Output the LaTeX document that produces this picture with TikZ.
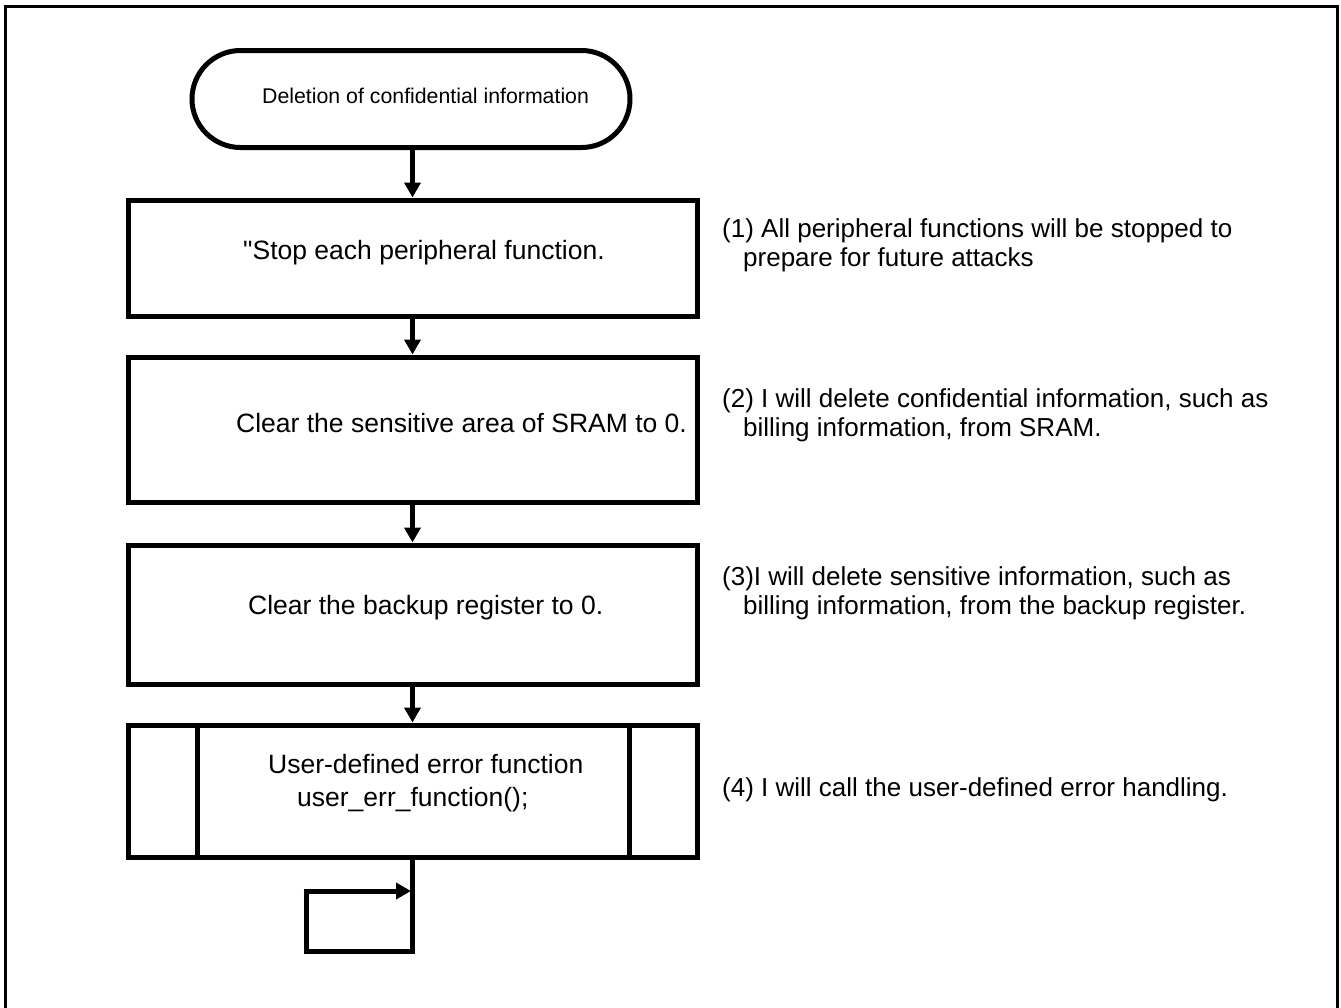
\documentclass[tikz,border=0pt]{standalone}
\usepackage{fontspec}
\setmainfont{Liberation Sans}
\usetikzlibrary{arrows.meta,shapes.misc}
\begin{document}
\begin{tikzpicture}[x=1pt,y=-1pt,
  flow/.style={line width=5pt},
  conn/.style={line width=5pt,-{Triangle[length=15pt,width=16pt]}},
  stepbox/.style={draw,line width=5pt,rectangle,minimum width=569pt,minimum height=#1,inner sep=0pt},
  termbox/.style={draw,line width=5pt,rounded rectangle,minimum width=438pt,minimum height=97pt,inner sep=0pt},
  boxtxt/.style={anchor=west,font=\fontsize{26.5}{33}\selectfont,inner sep=0pt,align=left},
  termtxt/.style={anchor=west,font=\fontsize{21.3}{25}\selectfont,inner sep=0pt},
  note/.style={anchor=west,font=\fontsize{26}{29}\selectfont,inner sep=0pt,align=left}]
\useasboundingbox (0,0) rectangle (1341,1007);
% page frame, open at the bottom
\begin{scope}
  \clip (0,0) rectangle (1341,1007);
  \draw[line width=3pt] (5,1040) -- (5,6) -- (1337,6) -- (1337,1040);
\end{scope}

% flow chart shapes
\node[termbox] (start) at (411,99) {};
\node[stepbox=116pt] (s1) at (412.5,258) {};
\node[stepbox=145pt] (s2) at (412.5,429.5) {};
\node[stepbox=139pt] (s3) at (412.5,614.5) {};
\node[stepbox=132pt] (s4) at (412.5,791) {};
\draw[flow] (s4.north west) ++(72,0) coordinate (s4l) -- (s4l |- s4.south);
\draw[flow] (s4.north east) ++(-70,0) coordinate (s4r) -- (s4r |- s4.south);

% texts inside the shapes
\node[termtxt] (tstart) at (262,96) {Deletion of confidential information};
\node[boxtxt] (t1) at (243,253) {\textquotedbl Stop each peripheral function.};
\node[boxtxt] (t2) at (236,423) {Clear the sensitive area of SRAM to 0.};
\node[boxtxt] (t3) at (248,608) {Clear the backup register to 0.};
\node[boxtxt] (t4) at (268,783) {User-defined error function\\\hspace*{29pt}user\_err\_function();};

% connectors
\draw[conn] (start.south -| s1.north) -- (s1.north);
\draw[conn] (s1.south) -- (s2.north);
\draw[conn] (s2.south) -- (s3.north);
\draw[conn] (s3.south) -- (s4.north);

% endless loop below the last step
\coordinate (lpb) at (412.5,951);
\coordinate (lpl) at (306,951);
\coordinate (lpt) at (306,891);
\coordinate (lpe) at (411,891);
\draw[flow,line join=miter] (s4.south) -- (lpb) -- (lpl) -- (lpt);
\draw[conn] (lpt) ++(-2.5,0) -- (lpe);

% explanatory notes
\node[note] (n1) at (722,245) {(1) All peripheral functions will be stopped to\\\hspace*{21pt}prepare for future attacks};
\node[note] (n2) at (722,415) {(2) I will delete confidential information, such as\\\hspace*{21pt}billing information, from SRAM.};
\node[note] (n3) at (722,593) {(3)I will delete sensitive information, such as\\\hspace*{21pt}billing information, from the backup register.};
\node[note] (n4) at (722,790) {(4) I will call the user-defined error handling.};
\end{tikzpicture}
\end{document}
